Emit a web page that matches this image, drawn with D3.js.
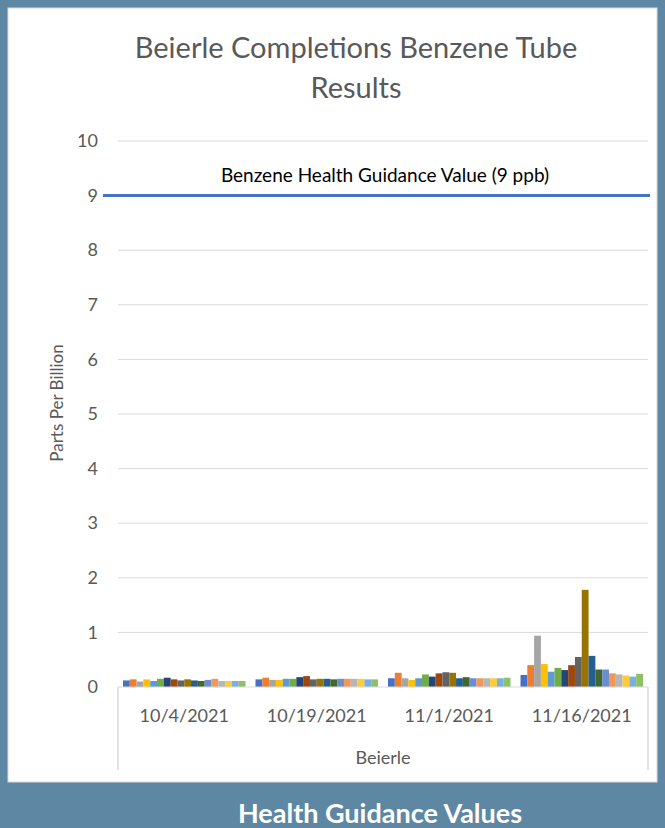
<!DOCTYPE html>
<html>
<head>
<meta charset="utf-8">
<script src="https://cdn.jsdelivr.net/npm/d3@7"></script>
<style>
  body { margin: 0; background: #5e87a3; }
  svg { display: block; }
  text { font-family: Lato, "Open Sans", sans-serif; }
</style>
</head>
<body>
<div id="chart"></div>
<script>
// Dates de prélèvement
const dates = ["10/4/2021", "10/19/2021", "11/1/2021", "11/16/2021"];
const tubes = d3.range(1, 19).map((i) => "Tube " + i);

// Valeurs (ppb) par tube, une liste par date
const values_10_4 = [0.12, 0.14, 0.10, 0.14, 0.11, 0.15, 0.17, 0.14, 0.12, 0.14, 0.12, 0.11, 0.13, 0.15, 0.11, 0.11, 0.11, 0.11];
const values_10_19 = [0.14, 0.17, 0.13, 0.13, 0.15, 0.15, 0.18, 0.20, 0.14, 0.15, 0.15, 0.14, 0.15, 0.15, 0.15, 0.15, 0.14, 0.14];
const values_11_1 = [0.16, 0.26, 0.16, 0.13, 0.16, 0.23, 0.19, 0.25, 0.27, 0.26, 0.16, 0.18, 0.16, 0.16, 0.16, 0.16, 0.16, 0.17];
const values_11_16 = [0.22, 0.40, 0.94, 0.42, 0.28, 0.35, 0.31, 0.40, 0.55, 1.78, 0.57, 0.32, 0.32, 0.25, 0.23, 0.21, 0.19, 0.24];
const allValues = [values_10_4, values_10_19, values_11_1, values_11_16];

const guidance = 9;
const yTicks = [0, 1, 2, 3, 4, 5, 6, 7, 8, 9, 10];

const colors = ["#4472c4", "#ed7d31", "#a5a5a5", "#ffc000", "#5b9bd5", "#70ad47",
  "#264478", "#9e480e", "#636363", "#997300", "#255e91", "#43682b",
  "#698ed0", "#f1975a", "#b7b7b7", "#ffcd33", "#7cafdd", "#8cc168"];

const width = 665;
const height = 828;
const margin = { top: 141, right: 17, bottom: 141, left: 118 };
const plotW = width - margin.left - margin.right;
const plotH = height - margin.top - margin.bottom;

const svg = d3.select("#chart").append("svg")
  .attr("width", width)
  .attr("height", height);

// Panneau blanc
svg.append("rect")
  .attr("x", 8).attr("y", 8)
  .attr("width", 649).attr("height", 774)
  .attr("fill", "#fff")
  .attr("stroke", "#d9d9d9");

// Titre
svg.append("text")
  .attr("x", 356).attr("y", 58)
  .attr("text-anchor", "middle")
  .style("font-size", "29px").style("fill", "#595959")
  .text("Beierle Completions Benzene Tube");
svg.append("text")
  .attr("x", 356).attr("y", 98)
  .attr("text-anchor", "middle")
  .style("font-size", "29px").style("fill", "#595959")
  .text("Results");

const g = svg.append("g")
  .attr("transform", `translate(${margin.left},${margin.top})`);

// Échelles
const x0 = d3.scaleBand().domain(dates).range([0, plotW]);
const gap = 10;
const x1 = d3.scaleBand().domain(tubes)
  .range([gap / 2, x0.bandwidth() - gap / 2]);
const y = d3.scaleLinear().domain([0, 10]).range([plotH, 0]);

// Grille
g.append("g")
  .selectAll("line")
  .data(yTicks.slice(1))
  .enter().append("line")
  .attr("x1", 0).attr("x2", plotW)
  .attr("y1", (d) => y(d)).attr("y2", (d) => y(d))
  .attr("stroke", "#d9d9d9").attr("stroke-width", 1);

// Axe Y
const yAxis = g.append("g")
  .call(d3.axisLeft(y).tickValues(yTicks).tickSize(0).tickPadding(20));
yAxis.select(".domain").remove();
yAxis.selectAll("text")
  .style("font-family", "Lato, 'Open Sans', sans-serif")
  .style("font-size", "18px").style("fill", "#595959");

// Barres
const groups = g.selectAll(".grp")
  .data(dates)
  .enter().append("g")
  .attr("transform", (d) => `translate(${x0(d)},0)`);

groups.selectAll("rect")
  .data((d, i) => allValues[i].map((v, j) => ({ tube: tubes[j], v, c: colors[j] })))
  .enter().append("rect")
  .attr("x", (d) => x1(d.tube))
  .attr("y", (d) => y(d.v))
  .attr("width", x1.bandwidth())
  .attr("height", (d) => y(0) - y(d.v))
  .attr("fill", (d) => d.c);

// Axe catégories
g.append("line")
  .attr("x1", 0).attr("x2", plotW)
  .attr("y1", plotH).attr("y2", plotH)
  .attr("stroke", "#d9d9d9");
[0, plotW].forEach((px) => {
  g.append("line")
    .attr("x1", px).attr("x2", px)
    .attr("y1", plotH).attr("y2", plotH + 83)
    .attr("stroke", "#d9d9d9").attr("stroke-width", 1.5);
});
g.selectAll(".date")
  .data(dates)
  .enter().append("text")
  .attr("x", (d) => x0(d) + x0.bandwidth() / 2)
  .attr("y", plotH + 35)
  .attr("text-anchor", "middle")
  .style("font-size", "18px").style("fill", "#595959")
  .text((d) => d);
g.append("text")
  .attr("x", plotW / 2)
  .attr("y", plotH + 77)
  .attr("text-anchor", "middle")
  .style("font-size", "18px").style("fill", "#595959")
  .text("Beierle");

// Ligne valeur guide
g.append("line")
  .attr("x1", -15).attr("x2", plotW + 2)
  .attr("y1", y(guidance)).attr("y2", y(guidance))
  .attr("stroke", "#4472c4").attr("stroke-width", 3);
g.append("text")
  .attr("x", 267).attr("y", y(guidance) - 14)
  .attr("text-anchor", "middle")
  .style("font-size", "19px").style("fill", "#000")
  .text("Benzene Health Guidance Value (9 ppb)");

// Label Y
svg.append("text")
  .attr("transform", `translate(63,403) rotate(-90)`)
  .attr("text-anchor", "middle")
  .style("font-size", "17px").style("fill", "#595959")
  .text("Parts Per Billion");

// Bandeau bas
svg.append("text")
  .attr("x", 380).attr("y", 823)
  .attr("text-anchor", "middle")
  .style("font-size", "27px").style("font-weight", "bold").style("fill", "#fff")
  .text("Health Guidance Values");
</script>
</body>
</html>
